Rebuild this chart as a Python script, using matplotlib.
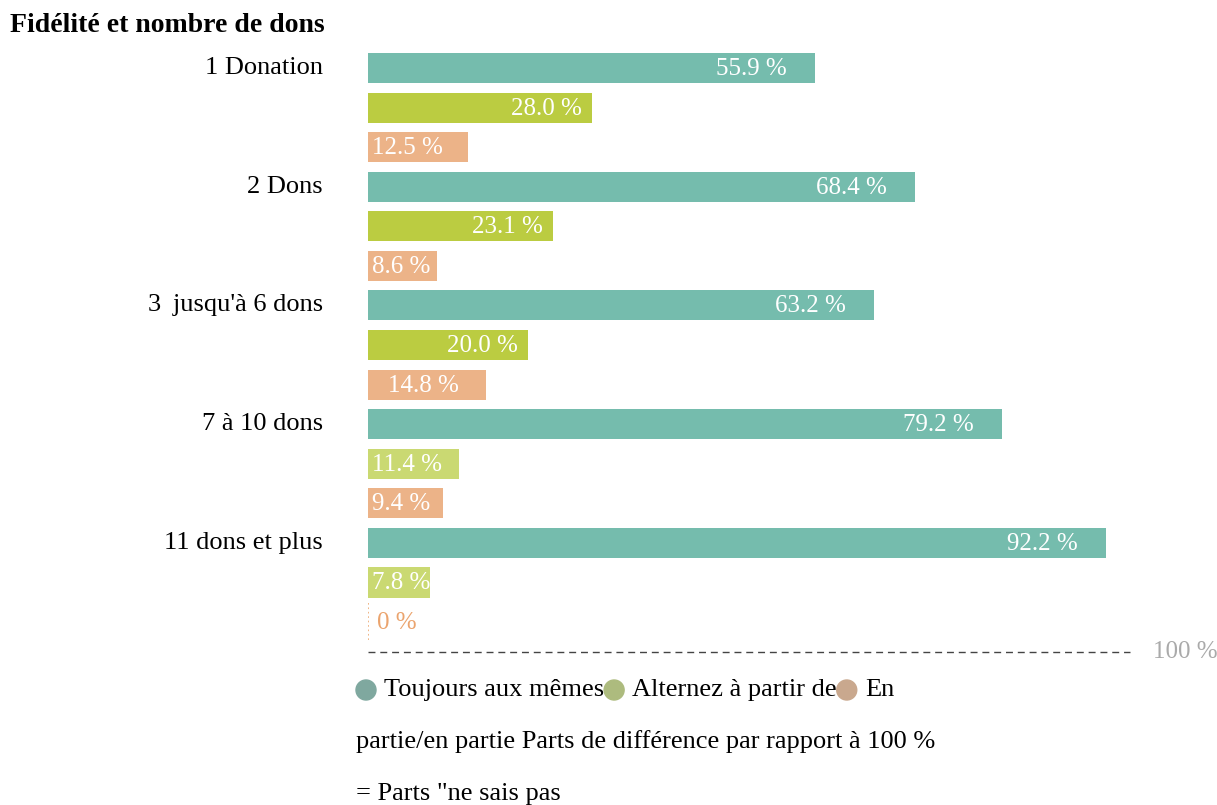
"""
Fidélité et nombre de dons - grouped horizontal bars
"""
import matplotlib.pyplot as plt
from matplotlib.patches import Circle
from matplotlib.transforms import offset_copy

plt.rcParams['font.family'] = ['Liberation Serif', 'DejaVu Serif']

categories = ['1 Donation', '2 Dons', "3 \u2009jusqu'à 6 dons", '7 à 10 dons', '11 dons et plus']
toujours = [55.9, 68.4, 63.2, 79.2, 92.2]
alternez = [28.0, 23.1, 20.0, 11.4, 7.8]
en_partie = [12.5, 8.6, 14.8, 9.4, 0.0]

legend_labels = [
    'Toujours aux mêmes',
    'Alternez à partir de',
    'En partie/en partie Parts de différence par rapport à 100 % = Parts "ne sais pas',
]

teal = '#75bcad'
green = '#bbcc41'
green_light = '#cad972'
orange = '#ecb388'
legend_colors = ['#7fa89f', '#adbb7e', '#c9a88e']

series = [
    (toujours, [teal] * 5, 28),
    (alternez, [green, green, green, green_light, green_light], 10),
    (en_partie, [orange] * 5, 28),
]

fig = plt.figure(figsize=(12.17, 8.05), dpi=100)
ax = fig.add_axes([368 / 1217, 0.2027, 800 / 1217, 0.7374])
n = len(categories)
px = 0.72  # points per pixel at 100 dpi

for s, (vals, cols, inset) in enumerate(series):
    ys = [g * 3 + s for g in range(n)]
    ax.barh(ys, vals, height=0.76, color=cols)
    for y, v in zip(ys, vals):
        if v == 0:
            ax.plot([0, 0], [y - 0.47, y + 0.47], color='#eca870', ls=':', lw=1.2)
            ax.annotate('0 %', (0, y), xytext=(9 * px, -1 * px), textcoords='offset points',
                        ha='left', va='center', color='#eba46e', fontsize=18)
        elif v < 13:
            ax.annotate(f'{v:.1f} %', (0, y), xytext=(4 * px, -1 * px), textcoords='offset points',
                        ha='left', va='center', color='white', fontsize=18)
        else:
            ax.annotate(f'{v:.1f} %', (v, y), xytext=(-inset * px, -1 * px), textcoords='offset points',
                        ha='right', va='center', color='white', fontsize=18)

# 100 % reference line
ax.plot([0, 95.3], [14.76, 14.76], color='#444444', lw=1, ls=(0, (5, 3.5)), clip_on=False)
ax.text(98.1, 14.76, '100 %', color='#aaaaaa', fontsize=18, ha='left', va='center')

ax.set_xlim(0, 100)
ax.set_ylim(14.5, -0.5)
ax.set_yticks([g * 3 for g in range(n)])
ax.set_yticklabels(categories, fontsize=19)
ax.tick_params(axis='y', length=0, pad=32.4)
for lbl in ax.get_yticklabels():
    lbl.set_transform(offset_copy(lbl.get_transform(), fig=fig, y=2.5 * px, units='points'))
ax.set_xticks([])
for sp in ax.spines.values():
    sp.set_visible(False)

fig.text(10 / 1217, 1 - 25 / 805, 'Fidélité et nombre de dons', fontsize=20,
         fontweight='bold', ha='left', va='center')

# legend, laid out in pixel coordinates and wrapped at the right edge
lay = fig.add_axes([0, 0, 1, 1])
lay.set_xlim(0, 1217)
lay.set_ylim(805, 0)
lay.axis('off')
fig.canvas.draw()
r = fig.canvas.get_renderer()


def text_width(s):
    t = lay.text(0, 0, s, fontsize=19)
    w = t.get_window_extent(r).width
    t.remove()
    return w


x0, right, line_h = 356, 948, 52
x, y = x0, 690
for color, label in zip(legend_colors, legend_labels):
    lay.add_patch(Circle((x + 10, y), 10, color=color))
    x += 28
    line = ''
    for word in label.split(' '):
        trial = (line + ' ' + word) if line else word
        if line and x + text_width(trial) > right:
            lay.text(x, y, line, fontsize=19, ha='left', va='center')
            x, y = x0, y + line_h
            line = word
        else:
            line = trial
    lay.text(x, y, line, fontsize=19, ha='left', va='center')
    x += text_width(line)

fig.savefig('out.png', dpi=100)
